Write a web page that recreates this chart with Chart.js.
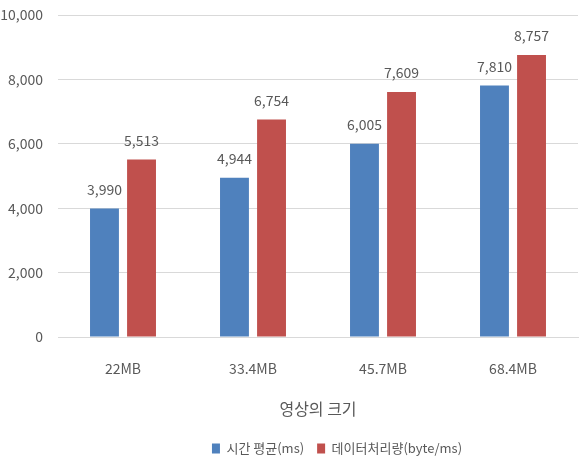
<!DOCTYPE html>
<html><head><meta charset="utf-8">
<script src="https://cdn.jsdelivr.net/npm/chart.js@4"></script>
<style>html,body{margin:0;padding:0;background:#fff}#w{width:587px;height:456px}</style>
</head><body><div id="w"><canvas id="c"></canvas></div>
<script>
const categories = ['22MB', '33.4MB', '45.7MB', '68.4MB'];
const seriesNames = ['시간 평균(ms)', '데이터처리량(byte/ms)'];
const timeAvg = [3990, 4944, 6005, 7810];
const throughput = [5513, 6754, 7609, 8757];
const yTicks = [0, 2000, 4000, 6000, 8000, 10000];
const xTitle = '영상의 크기';

const FONT = "'Liberation Sans Narrow', 'Noto Sans CJK KR', sans-serif";
const TXT = '#595959';
const fmt = v => v.toLocaleString('en-US');

const valueLabels = {
  id: 'valueLabels',
  afterDatasetsDraw(chart) {
    const ctx = chart.ctx;
    ctx.save();
    ctx.font = '14px ' + FONT;
    ctx.fillStyle = TXT;
    ctx.textAlign = 'center';
    ctx.textBaseline = 'bottom';
    chart.data.datasets.forEach((ds, i) => {
      chart.getDatasetMeta(i).data.forEach((bar, j) => {
        ctx.fillText(fmt(ds.data[j]), bar.x, bar.y - 12);
      });
    });
    ctx.restore();
  }
};
const shiftLegend = {
  id: 'shiftLegend',
  afterLayout(chart) {
    const l = chart.legend;
    if (l) { l.left += 48; l.right += 48; l.top += 9; l.bottom += 9; }
  }
};

new Chart(document.getElementById('c'), {
  type: 'bar',
  data: {
    labels: categories,
    datasets: [
      { label: seriesNames[0], data: timeAvg, backgroundColor: '#4F81BD' },
      { label: seriesNames[1], data: throughput, backgroundColor: '#C0504D' }
    ]
  },
  options: {
    responsive: true, maintainAspectRatio: false, animation: false,
    devicePixelRatio: 1,
    categoryPercentage: 0.57, barPercentage: 0.78,
    layout: { padding: { top: 15, right: 9, left: 0, bottom: 0 } },
    plugins: {
      tooltip: { enabled: false },
      legend: {
        position: 'bottom',
        labels: { boxWidth: 8, boxHeight: 10, color: TXT, font: { family: FONT, size: 13 }, padding: 13 }
      }
    },
    scales: {
      y: {
        min: 0, max: 10000,
        afterBuildTicks: s => { s.ticks = yTicks.map(v => ({ value: v })); },
        afterFit: s => { s.width = 58; s.paddingTop = 0; s.paddingBottom = 0; },
        border: { display: false },
        grid: { color: '#d9d9d9', drawTicks: false },
        ticks: { color: TXT, font: { family: FONT, size: 14 }, padding: 15, callback: v => fmt(v) }
      },
      x: {
        afterFit: s => { s.height -= 2; },
        grid: { display: false },
        border: { color: '#d9d9d9' },
        ticks: { color: TXT, font: { family: FONT, size: 14 }, padding: 15 },
        title: { display: true, text: xTitle, color: TXT, font: { family: FONT, size: 16 }, padding: { top: 10, bottom: 1 } }
      }
    }
  },
  plugins: [valueLabels, shiftLegend]
});
</script></body></html>
